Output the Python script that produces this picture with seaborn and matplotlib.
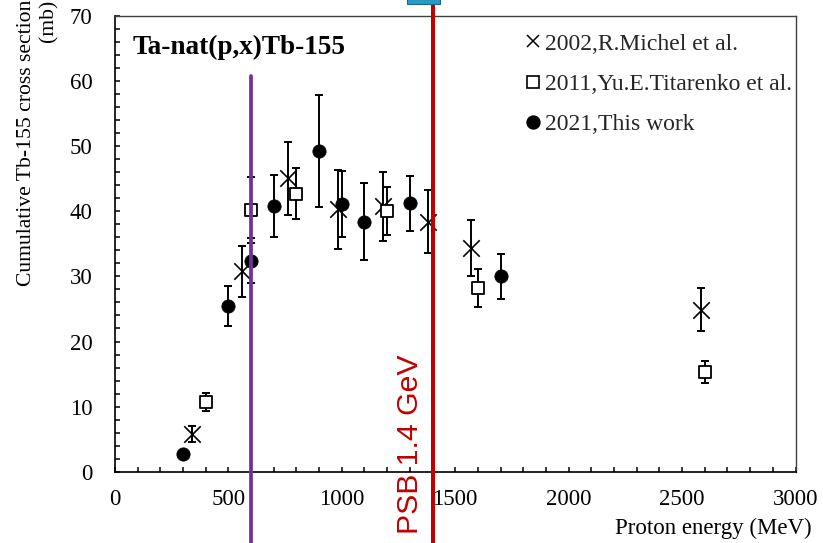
import matplotlib
matplotlib.use("Agg")
import matplotlib.pyplot as plt
from matplotlib.lines import Line2D
from matplotlib.patches import Rectangle
from matplotlib.ticker import MultipleLocator
import seaborn as sns

# Cumulative Tb-155 production cross sections, Ta-nat(p,x)
michel_e = [340, 560, 765, 985, 1180, 1380, 1570, 2585]
michel_v = [5.8, 30.8, 45.1, 40.3, 40.8, 38.4, 34.4, 24.9]
michel_err = [1.2, 3.9, 5.6, 6.1, 5.3, 4.85, 4.3, 3.3]

titarenko_e = [400, 600, 800, 1200, 1600, 2600]
titarenko_v = [10.75, 40.2, 42.7, 40.0, 28.2, 15.35]
titarenko_err = [1.4, 5.1, 3.9, 3.7, 2.95, 1.7]

thiswork_e = [300, 500, 600, 700, 900, 1000, 1100, 1300, 1700]
thiswork_v = [2.7, 25.5, 32.4, 40.8, 49.3, 41.1, 38.4, 41.2, 30.0]
thiswork_err = [0.4, 3.1, 3.45, 4.7, 8.6, 5.1, 5.9, 4.2, 3.4]

series_labels = ["2002,R.Michel et al.", "2011,Yu.E.Titarenko et al.", "2021,This work"]
marker_energy = 600      # MeV
psb_energy = 1400        # MeV, PSB 1.4 GeV

sns.set_theme(style="ticks")
plt.rcParams["font.family"] = ["Liberation Serif", "DejaVu Serif"]

W, H = 823, 543
fig = plt.figure(figsize=(W / 100, H / 100), dpi=100)
x0, x1, y0, y1 = 114.9, 795.5, 471.7, 16.0
ax = fig.add_axes([x0 / W, (H - y0) / H, (x1 - x0) / W, (y0 - y1) / H])

err_kw = dict(fmt="none", ecolor="black", elinewidth=1.4, capsize=3.0, capthick=1.4, zorder=2)
ax.errorbar(michel_e, michel_v, yerr=michel_err, **err_kw)
ax.errorbar(titarenko_e, titarenko_v, yerr=titarenko_err, **err_kw)
ax.errorbar(thiswork_e, thiswork_v, yerr=thiswork_err, **err_kw)

sns.scatterplot(x=michel_e, y=michel_v, marker="x", s=140, color="black",
                linewidth=1.2, zorder=3, ax=ax)
sns.scatterplot(x=titarenko_e, y=titarenko_v, marker="s", s=85, facecolor="white",
                edgecolor="black", linewidth=1.3, zorder=3, ax=ax)
sns.scatterplot(x=thiswork_e, y=thiswork_v, marker="o", s=92, color="black",
                edgecolor="black", linewidth=0.5, zorder=3, ax=ax)

ax.set_xlim(0, 3000)
ax.set_ylim(0, 70)
ax.xaxis.set_major_locator(MultipleLocator(500))
ax.xaxis.set_minor_locator(MultipleLocator(100))
ax.yaxis.set_major_locator(MultipleLocator(10))
ax.yaxis.set_minor_locator(MultipleLocator(2))
ax.tick_params(which="both", direction="in", length=3.6, width=1.1, color="black",
               top=False, right=False)
ax.tick_params(axis="x", which="major", labelsize=16.5, pad=12.5)
ax.tick_params(axis="y", which="major", labelsize=16.5, pad=16)
for lab in ax.get_xticklabels() + ax.get_yticklabels():
    lab.set_color("black")

for side in ("left", "bottom"):
    ax.spines[side].set_linewidth(1.2)
    ax.spines[side].set_color("black")
for side in ("top", "right"):
    ax.spines[side].set_linewidth(1.0)
    ax.spines[side].set_color("#404040")

ax.set_xlabel("Proton energy (MeV)", fontsize=16.5, color="black", ha="right")
ax.xaxis.set_label_coords((812 - x0) / (x1 - x0), (y0 - 518) / (y0 - y1))
ax.set_ylabel("Cumulative Tb-155 cross section\n(mb)", fontsize=15.6, color="black",
              loc="top", multialignment="right")
ax.yaxis.set_label_coords((58 - x0) / (x1 - x0), (y0 - 0) / (y0 - y1))

ax.text((133 - x0) / (x1 - x0), (y0 - 47) / (y0 - y1), "Ta-nat(p,x)Tb-155",
        transform=ax.transAxes, fontsize=19.6, fontweight="bold", ha="left", va="center",
        color="black")

handles = [
    Line2D([], [], linestyle="none", marker="x", markersize=9.0, markeredgewidth=1.1, color="black"),
    Line2D([], [], linestyle="none", marker="s", markersize=8.5, markerfacecolor="white",
           markeredgecolor="black", markeredgewidth=1.2),
    Line2D([], [], linestyle="none", marker="o", markersize=9.3, color="black"),
]
ax.legend(handles, series_labels, loc="upper left",
          bbox_to_anchor=((526.1 - x0) / (x1 - x0), (y0 - 33) / (y0 - y1)),
          frameon=False, fontsize=17, handlelength=0.6, handletextpad=0.2,
          labelspacing=0.8, borderpad=0, borderaxespad=0)

# Beam energy markers
ax.axvline(marker_energy, ymin=-0.2, ymax=(y0 - 76) / (y0 - y1), color="#7030A0",
           linewidth=2.7, clip_on=False, zorder=5)
ax.axvline(psb_energy, ymin=-0.2, ymax=1.1, color="#C00000", linewidth=2.9,
           clip_on=False, zorder=5)
fig.text(417.5 / W, (H - 355) / H, "PSB 1.4 GeV", rotation=90, rotation_mode="anchor",
         ha="right", va="baseline", color="#C00000", fontsize=21.8,
         family=["Liberation Sans", "DejaVu Sans"])

fig.patches.append(Rectangle((407 / W, (H - 3.5) / H), 33 / W, 5 / H, transform=fig.transFigure,
                             facecolor="#2A9BC4", edgecolor="#1A6A8C", linewidth=0.8))

fig.savefig("out.png", dpi=100, facecolor="white")
